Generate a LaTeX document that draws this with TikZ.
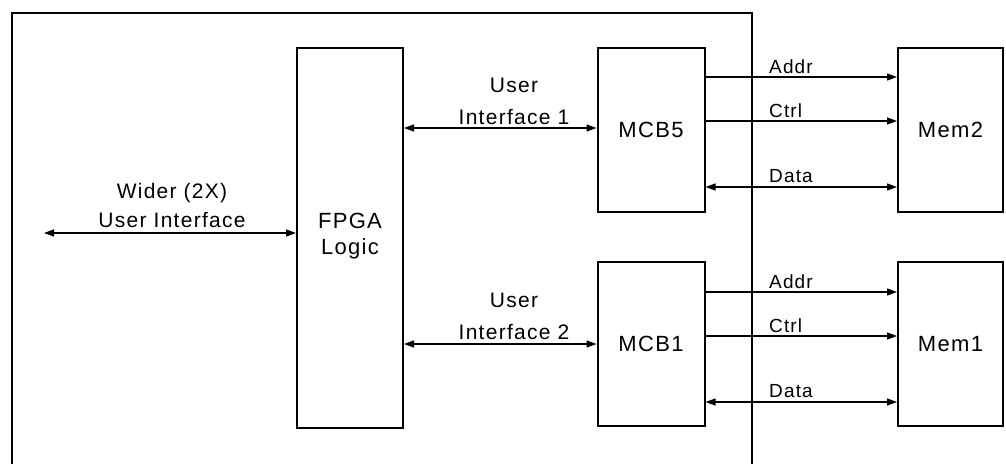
\documentclass[tikz,border=0pt]{standalone}
\usepackage{fontspec}
\setmainfont{Liberation Sans}[LetterSpace=6]
\usetikzlibrary{arrows.meta}
\begin{document}
\begin{tikzpicture}[x=1pt,y=-1pt,
  blk/.style={draw,line width=2pt,inner sep=0pt,font=\fontsize{22}{26}\selectfont,align=center},
  sig/.style={line width=1.2pt,-{Triangle[length=10pt,width=7pt]}},
  bsig/.style={line width=1.2pt,{Triangle[length=10pt,width=7pt]}-{Triangle[length=10pt,width=7pt]}},
  lbl/.style={font=\fontsize{21}{32}\selectfont,align=center,inner sep=0pt,anchor=base},
  slbl/.style={font=\fontsize{19}{22}\selectfont,anchor=base west,inner sep=0pt}]
\useasboundingbox (0,0) rectangle (1006,463);
% outer device boundary
\draw[line width=2.5pt] (12,475) -- (12,13) -- (752,13) -- (752,475);
% blocks
\node[blk,minimum width=106pt,minimum height=380pt] (fpga) at (350,238) {};
\node[lbl,font=\fontsize{22}{26}\selectfont] (fpgalbl) at (350,254) {FPGA\\Logic};
\node[blk,minimum width=107pt,minimum height=164pt] (mcb5) at (651,130) {MCB5};
\node[blk,minimum width=107pt,minimum height=164pt] (mcb1) at (651,344) {MCB1};
\node[blk,minimum width=105pt,minimum height=164pt] (mem2) at (950.5,130) {Mem2};
\node[blk,minimum width=105pt,minimum height=164pt] (mem1) at (950.5,344) {Mem1};
% wide interface
\coordinate (wend) at (44,233);
\draw[bsig] (wend) -- (fpga.west |- wend);
\node[lbl,font=\fontsize{21}{29}\selectfont] (wlbl) at (172,227) {Wider (2X)\\User Interface};
% user interfaces
\draw[bsig] (fpga.east |- 0,128) -- (mcb5.west |- 0,128);
\node[lbl] (ui1) at (514,124) {User\\Interface 1};
\draw[bsig] (fpga.east |- 0,344) -- (mcb1.west |- 0,344);
\node[lbl] (ui2) at (514,339) {User\\Interface 2};
% memory 2 signals
\draw[sig] (mcb5.east |- 0,77) -- (mem2.west |- 0,77);
\node[slbl] (a2) at (769,73) {Addr};
\draw[sig] (mcb5.east |- 0,121) -- (mem2.west |- 0,121);
\node[slbl] (c2) at (769,117) {Ctrl};
\draw[bsig] (mcb5.east |- 0,187) -- (mem2.west |- 0,187);
\node[slbl] (d2) at (769,182) {Data};
% memory 1 signals
\draw[sig] (mcb1.east |- 0,292) -- (mem1.west |- 0,292);
\node[slbl] (a1) at (769,288) {Addr};
\draw[sig] (mcb1.east |- 0,336) -- (mem1.west |- 0,336);
\node[slbl] (c1) at (769,332) {Ctrl};
\draw[bsig] (mcb1.east |- 0,402) -- (mem1.west |- 0,402);
\node[slbl] (d1) at (769,397) {Data};
\end{tikzpicture}
\end{document}
